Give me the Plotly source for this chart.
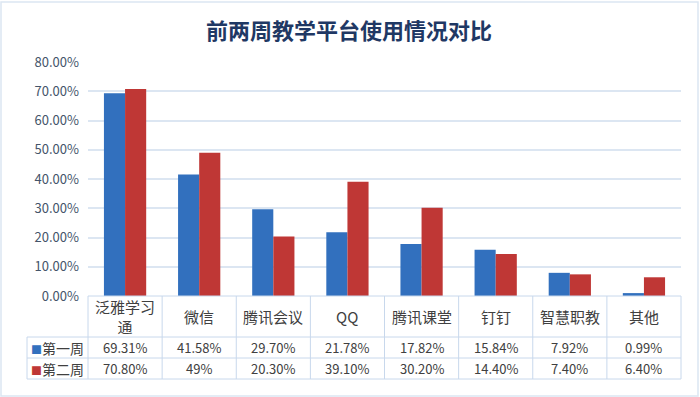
import plotly.graph_objects as go

categories = ["泛雅学习通", "微信", "腾讯会议", "QQ", "腾讯课堂", "钉钉", "智慧职教", "其他"]
header_labels = ["泛雅学习<br>通", "微信", "腾讯会议", "QQ", "腾讯课堂", "钉钉", "智慧职教", "其他"]
week1 = [0.6931, 0.4158, 0.2970, 0.2178, 0.1782, 0.1584, 0.0792, 0.0099]
week2 = [0.7080, 0.49, 0.2030, 0.3910, 0.3020, 0.1440, 0.0740, 0.0640]
week1_labels = ["69.31%", "41.58%", "29.70%", "21.78%", "17.82%", "15.84%", "7.92%", "0.99%"]
week2_labels = ["70.80%", "49%", "20.30%", "39.10%", "30.20%", "14.40%", "7.40%", "6.40%"]
series_names = ["第一周", "第二周"]
title_text = "前两周教学平台使用情况对比"

BLUE = "#3270BE"
RED = "#BF3735"
GRID = "#DCE6F2"
BORDER = "#C8D8EC"
TXT = "#404040"
FONT = "Noto Sans CJK SC"

W, H = 700, 397
L, R, T, B = 88, 19, 62, 101
PH = H - T - B  # plot height in px
PW = W - L - R

def py(p):
    """pixel y -> paper y"""
    return (H - B - p) / PH

def px(p):
    return (p - L) / PW

fig = go.Figure()
fig.add_trace(go.Bar(x=categories, y=week1, name=series_names[0],
                     marker=dict(color=BLUE, line=dict(width=0))))
fig.add_trace(go.Bar(x=categories, y=week2, name=series_names[1],
                     marker=dict(color=RED, line=dict(width=0))))

shapes = []
annotations = []

# table geometry (pixels)
y_top = H - B       # 296
y_r1 = 337
y_r2 = 358
y_bot = 379
x_left = 27

line = dict(color=BORDER, width=1)
shapes.append(dict(type="line", xref="paper", yref="paper", x0=0, x1=1, y0=py(y_top), y1=py(y_top), line=line))
for yy in (y_r1, y_r2, y_bot):
    shapes.append(dict(type="line", xref="paper", yref="paper", x0=px(x_left), x1=1, y0=py(yy), y1=py(yy), line=line))
shapes.append(dict(type="line", xref="paper", yref="paper", x0=px(x_left), x1=px(x_left), y0=py(y_r1), y1=py(y_bot), line=line))
for i in range(len(categories) + 1):
    xx = i / len(categories)
    shapes.append(dict(type="line", xref="paper", yref="paper", x0=xx, x1=xx, y0=py(y_top), y1=py(y_bot), line=line))

# outer frame
shapes.append(dict(type="rect", xref="paper", yref="paper", x0=px(1), x1=px(698), y0=py(2), y1=py(396),
                   line=dict(color="#DCE6F2", width=1.5)))

def ann(x, y, text, size, color=TXT, xanchor="center"):
    return dict(xref="paper", yref="paper", x=x, y=y, text=text, showarrow=False,
                xanchor=xanchor, yanchor="middle", align="center",
                font=dict(family=FONT, size=size, color=color))

n = len(categories)
for i in range(n):
    xc = (i + 0.5) / n
    annotations.append(ann(xc, py((y_top + y_r1) / 2), header_labels[i], 15))
    annotations.append(ann(xc, py((y_r1 + y_r2) / 2), week1_labels[i], 13))
    annotations.append(ann(xc, py((y_r2 + y_bot) / 2), week2_labels[i], 13))

for name, col, (a, b) in [(series_names[0], BLUE, (y_r1, y_r2)), (series_names[1], RED, (y_r2, y_bot))]:
    annotations.append(ann(px(29), py((a + b) / 2),
                           f"<span style='color:{col};font-size:11px'>■</span>{name}", 14, xanchor="left"))

annotations.append(ann(px(349), py(29), f"<b>{title_text}</b>", 22, color="#1F3864"))

fig.update_layout(
    width=W, height=H,
    margin=dict(l=L, r=R, t=T, b=B, pad=0),
    paper_bgcolor="white", plot_bgcolor="white",
    barmode="group", bargap=0.43, bargroupgap=0,
    showlegend=False,
    shapes=shapes, annotations=annotations,
    font=dict(family=FONT),
)
fig.update_xaxes(showticklabels=False, showgrid=False, zeroline=False, showline=False, ticks="")
fig.update_yaxes(range=[0, 0.8], dtick=0.1, tickformat=".2%", showgrid=True, gridcolor=GRID, gridwidth=1.5,
                 zeroline=False, showline=False, ticks="", ticklabelstandoff=8, automargin=False,
                 tickfont=dict(family=FONT, size=13, color="#44546A"))

fig.write_html("out.html", config={"displayModeBar": False},
               post_script="document.body.style.margin='0';")
